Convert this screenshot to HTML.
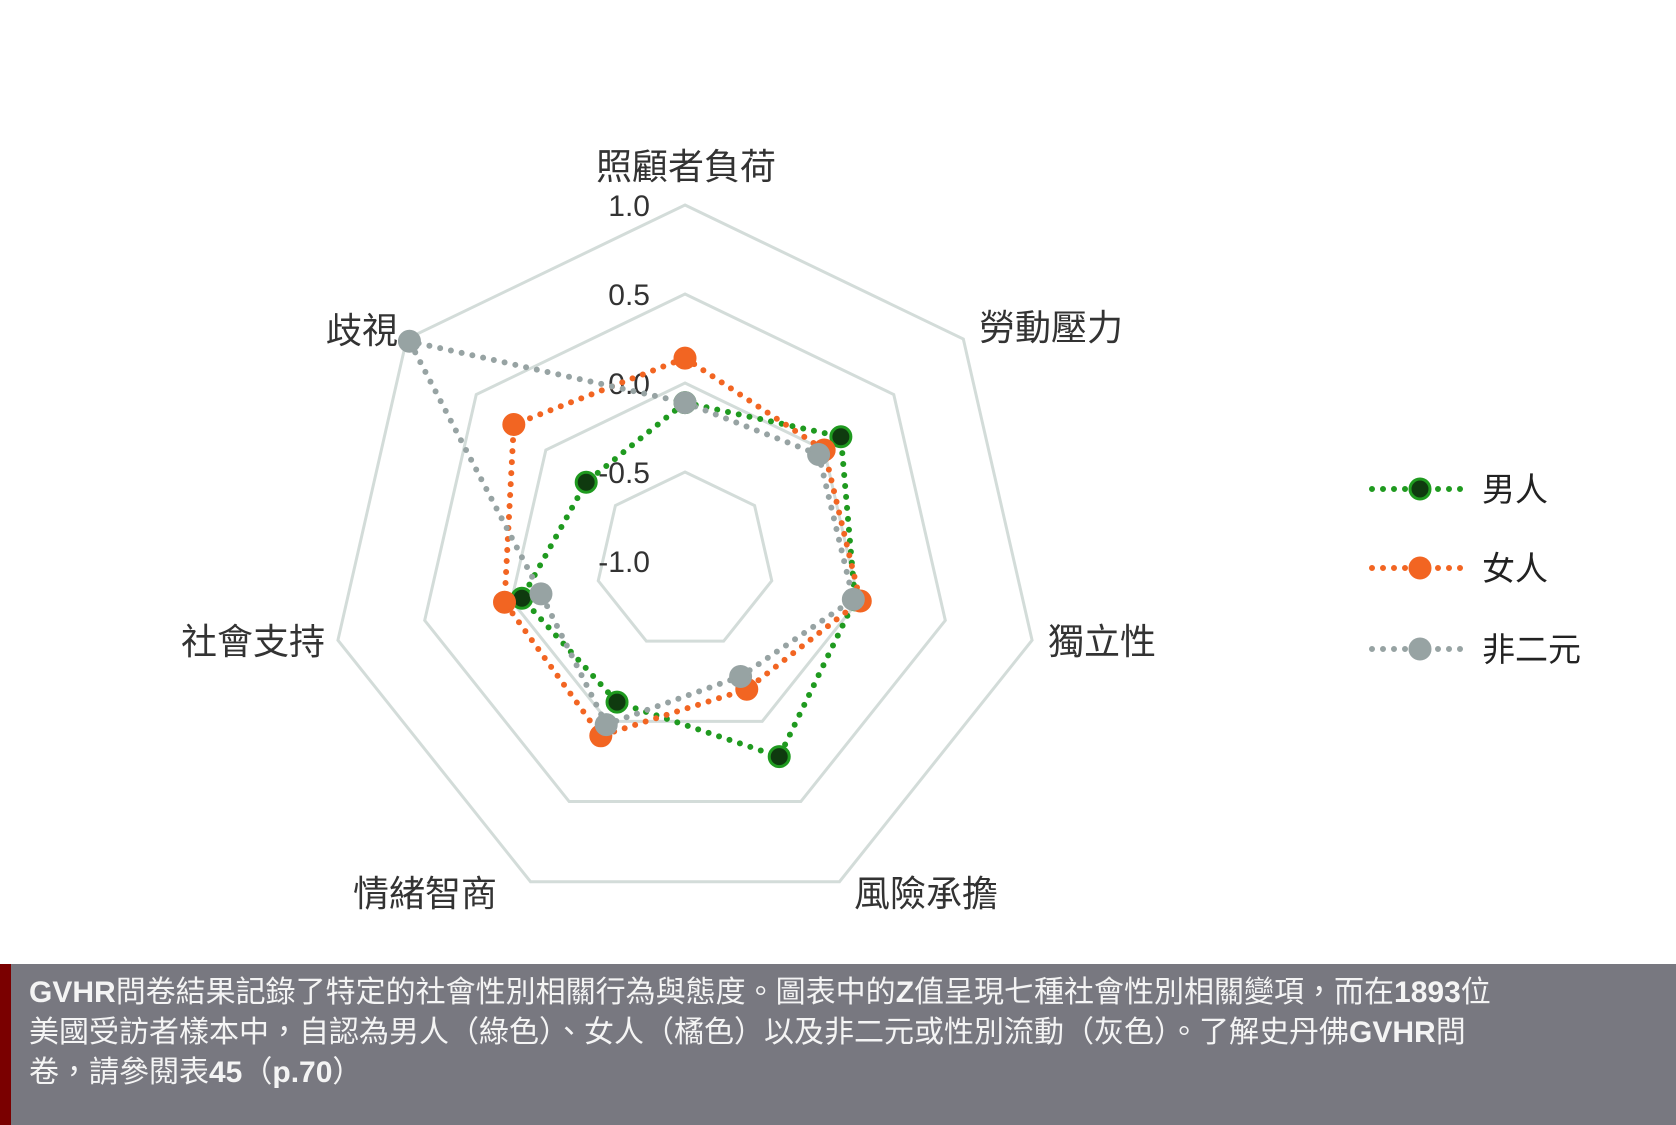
<!DOCTYPE html>
<html><head><meta charset="utf-8"><style>
html,body{margin:0;padding:0;background:#fff;}
body{width:1676px;height:1125px;position:relative;overflow:hidden;font-family:"Liberation Sans","Noto Sans CJK TC",sans-serif;}
#footer{position:absolute;left:0;top:964px;width:1676px;height:161px;background:#787880;}
#footer .bar{position:absolute;left:0;top:0;width:11px;height:161px;background:#7a0000;}
#footer .txt{position:absolute;left:29px;top:9px;width:1640px;color:#f4f4f4;font-size:30px;line-height:40px;white-space:nowrap;font-family:"Liberation Sans","Noto Sans CJK TC",sans-serif;}
</style></head><body>
<svg id="chart" width="1676" height="964" style="position:absolute;left:0;top:0"></svg>
<div id="footer"><div class="bar"></div><div class="txt"><b>GVHR</b>問卷結果記錄了特定的社會性別相關行為與態度。圖表中的<b>Z</b>值呈現七種社會性別相關變項，而在<b>1893</b>位<br>美國受訪者樣本中，自認為男人（綠色）、女人（橘色）以及非二元或性別流動（灰色）。了解史丹佛<b>GVHR</b>問<br>卷，請參閱表<b>45</b>（<b>p.70</b>）</div></div>
<script>
const categories=["照顧者負荷","勞動壓力","獨立性","風險承擔","情緒智商","社會支持","歧視"];
const ticks=[1.0,0.5,0.0,-0.5,-1.0];
const tickLabels=["1.0","0.5","0.0","-0.5","-1.0"];
const seriesNames=["男人","女人","非二元"];
const menValues=[-0.11,0.12,-0.02,0.22,-0.12,-0.06,-0.29];
const womenValues=[0.14,0.0,0.01,-0.2,0.09,0.04,0.23];
const nonbinaryValues=[-0.11,-0.04,-0.03,-0.28,0.02,-0.17,0.98];

const NS="http://www.w3.org/2000/svg";
const svg=document.getElementById('chart');
const cx=685,cy=561,minV=-1,maxV=1,R=356;
function rScale(v){return (v-minV)/(maxV-minV)*R;}
function ang(i){return -Math.PI/2+i*2*Math.PI/categories.length;}
function pt(i,v){const r=rScale(v);return [cx+r*Math.cos(ang(i)),cy+r*Math.sin(ang(i))];}
function mk(tag,attrs){const e=document.createElementNS(NS,tag);for(const k in attrs)e.setAttribute(k,attrs[k]);svg.appendChild(e);return e;}

ticks.forEach((t,k)=>{
  if(t<=minV)return;
  const pts=categories.map((c,i)=>pt(i,t).join(',')).join(' ');
  const g=mk('polygon',{points:pts,fill:'none',stroke:'#d3dcd9','stroke-width':3});
  
  
});
ticks.forEach((t,k)=>{
  const y=cy-rScale(t);
  const e=mk('text',{x:650,y:y+11,'text-anchor':'end','font-size':30,fill:'#333'});
  e.textContent=tickLabels[k];
  
  
});
const labelPos=[[686,166],[1051,327],[1102,641],[926,893],[425,893],[253,641],[362,330]];
categories.forEach((c,i)=>{
  const e=mk('text',{x:labelPos[i][0],y:labelPos[i][1]+13,'text-anchor':'middle','font-size':36,fill:'#333'});
  e.textContent=c;
  
  
});
const series=[
  {vals:menValues,line:'#1f9a1f',fill:'#0f3a0f',stroke:'#1f9a1f'},
  {vals:womenValues,line:'#f26522',fill:'#f26522',stroke:'#f26522'},
  {vals:nonbinaryValues,line:'#97a3a3',fill:'#97a3a3',stroke:'#97a3a3'}
];
series.forEach((s,si)=>{
  const pts=s.vals.map((v,i)=>pt(i,v).join(',')).join(' ');
  const p=mk('polygon',{points:pts,fill:'none',stroke:s.line,'stroke-width':6,'stroke-dasharray':'0 11','stroke-linecap':'round'});
  
  
});
series.forEach((s,si)=>{
  s.vals.forEach((v,i)=>{
    const [x,y]=pt(i,v);
    const c=mk('circle',{cx:x,cy:y,r:10,fill:s.fill,stroke:s.stroke,'stroke-width':3});
    
    
  });
});
const legY=[489,568,649];
series.forEach((s,si)=>{
  const l=mk('line',{x1:1372,y1:legY[si],x2:1468,y2:legY[si],stroke:s.line,'stroke-width':6,'stroke-dasharray':'0 11','stroke-linecap':'round'});
  
  
  const c=mk('circle',{cx:1420,cy:legY[si],r:10,fill:s.fill,stroke:s.stroke,'stroke-width':3});
  
  
  const t=mk('text',{x:1482,y:legY[si]+12,'font-size':33,fill:'#222'});
  t.textContent=seriesNames[si];
  
  
});
</script>
</body></html>
